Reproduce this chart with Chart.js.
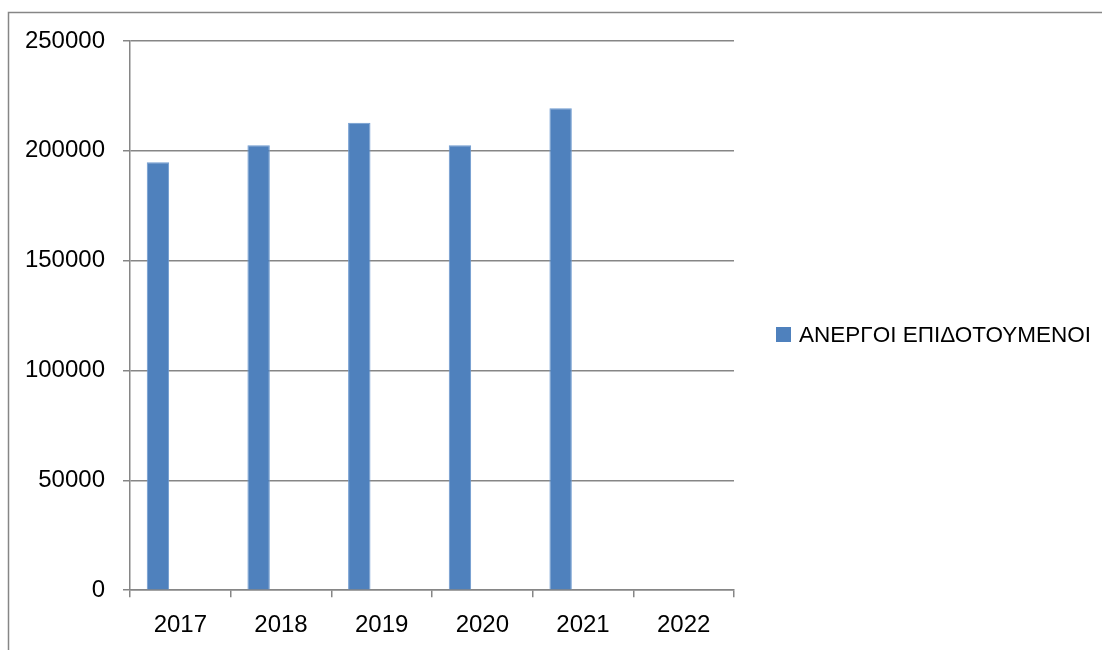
<!DOCTYPE html>
<html>
<head>
<meta charset="utf-8">
<script src="https://cdn.jsdelivr.net/npm/chart.js@4"></script>
<style>
  html, body { margin: 0; padding: 0; background: #ffffff; }
  #wrap { width: 1102px; height: 650px; position: relative; }
</style>
</head>
<body>
<div id="wrap"><canvas id="grafico" width="1102" height="650"></canvas></div>
<script>
// data
const anos = ['2017', '2018', '2019', '2020', '2021', '2022'];
const anergoi = [194800, 202600, 212800, 202600, 219400, null];
const kena = [null, null, null, null, null, null]; // empty series of the original sheet
const yTicks = [0, 50000, 100000, 150000, 200000, 250000];
const nomaSeiras = 'ΑΝΕΡΓΟΙ ΕΠΙΔΟΤΟΥΜΕΝΟΙ';

const gkri = '#868686';
const mple = '#4f81bd';
const grammata = "'Liberation Sans', Arial, sans-serif";

// outer frame of the excel chart object
const plaisio = {
    id: 'plaisio',
    beforeDraw(chart) {
        const c = chart.ctx;
        c.save();
        c.strokeStyle = gkri;
        c.lineWidth = 1.5;
        c.beginPath();
        c.moveTo(8.5, 650);
        c.lineTo(8.5, 12.5);
        c.lineTo(1102, 12.5);
        c.stroke();
        c.restore();
    }
};

// legend on the right, drawn by hand so the plot keeps its width
const ypomnima = {
    id: 'ypomnima',
    afterDraw(chart) {
        const c = chart.ctx;
        const ds = chart.data.datasets[0];
        const x = chart.chartArea.right + 42;
        const y = 334.5;
        c.save();
        c.fillStyle = ds.backgroundColor;
        c.fillRect(x, y - 7.5, 15, 15);
        c.fillStyle = '#000000';
        c.font = '22.5px ' + grammata;
        c.textBaseline = 'middle';
        c.fillText(ds.label, x + 23, y + 1);
        c.restore();
    }
};

function criarGrafico() {
    const ctx = document.getElementById('grafico');
    return new Chart(ctx, {
        type: 'bar',
        data: {
            labels: anos,
            datasets: [
                { label: nomaSeiras, data: anergoi, backgroundColor: mple, borderColor: '#6e9ad0', borderWidth: { left: 1, right: 1, top: 1, bottom: 0 } },
                { label: '', data: kena, backgroundColor: mple },
                { label: '', data: kena, backgroundColor: mple }
            ]
        },
        options: {
            responsive: false,
            animation: false,
            categoryPercentage: 0.667,
            barPercentage: 1,
            layout: { padding: { top: 41, right: 368, bottom: -4, left: 0 } },
            plugins: {
                legend: { display: false },
                tooltip: { enabled: false }
            },
            scales: {
                x: {
                    offset: true,
                    grid: { display: true, offset: true, drawOnChartArea: false, drawTicks: true, tickLength: 7, color: gkri, lineWidth: 1.5 },
                    border: { display: true, color: gkri, width: 1.5 },
                    ticks: { color: '#000000', padding: 14, font: { size: 24, family: grammata } }
                },
                y: {
                    min: 0,
                    max: 250000,
                    afterBuildTicks(scale) {
                        scale.ticks = yTicks.map(v => ({ value: v }));
                    },
                    afterFit(scale) {
                        scale.width = 130;
                    },
                    grid: { color: gkri, lineWidth: 1.5, drawTicks: true, tickLength: 7 },
                    border: { display: true, color: gkri, width: 1.5 },
                    ticks: {
                        color: '#000000',
                        padding: 18,
                        font: { size: 24, family: grammata },
                        callback: (v) => String(v)
                    }
                }
            }
        },
        plugins: [plaisio, ypomnima]
    });
}

criarGrafico();
</script>
</body>
</html>
